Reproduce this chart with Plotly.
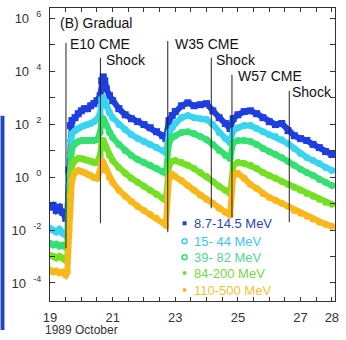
import numpy as np
import plotly.graph_objects as go

# time in days of 1989 October
days = [19.0, 19.1, 19.2, 19.3, 19.4, 19.5, 19.55, 19.6, 19.65, 19.7,
        19.8, 19.9, 20.0, 20.1, 20.2, 20.3, 20.4, 20.5, 20.6, 20.65,
        20.7, 20.75, 20.8, 20.9, 21.0, 21.2, 21.4, 21.6, 21.8, 22.0,
        22.2, 22.4, 22.6, 22.7, 22.8, 22.9, 23.0, 23.2, 23.4, 23.6,
        23.8, 24.0, 24.2, 24.4, 24.6, 24.75, 24.85, 25.0, 25.2, 25.4,
        25.6, 25.8, 26.0, 26.2, 26.4, 26.6, 26.8, 27.0, 27.2, 27.4,
        27.6, 27.8, 28.0]

# log10 of proton intensity
log_8_14 = [-1.14, -1.07, -1.26, -1.14, -1.33, -1.56, -1.44, 0.25, 1.94, 2.13,
            2.24, 2.39, 2.50, 2.58, 2.58, 2.69, 2.77, 2.88, 3.07, 3.63,
            3.78, 3.63, 3.33, 3.07, 2.88, 2.58, 2.35, 2.20, 2.09, 1.98,
            1.86, 1.71, 1.56, 1.45, 2.13, 2.32, 2.47, 2.69, 2.80, 2.69,
            2.73, 2.77, 2.50, 2.24, 2.02, 1.83, 2.20, 2.35, 2.47, 2.50,
            2.39, 2.24, 2.09, 1.98, 2.02, 1.75, 1.56, 1.45, 1.38, 1.23,
            1.11, 0.96, 0.85]
log_15_44 = [-1.93, -2.01, -2.08, -1.97, -2.12, -2.19, -2.08, -0.32, 1.38, 1.64,
             1.75, 1.83, 1.90, 1.94, 1.98, 2.02, 2.09, 2.17, 2.39, 2.95,
             2.99, 2.88, 2.69, 2.43, 2.24, 1.98, 1.79, 1.60, 1.45, 1.34,
             1.23, 1.11, 1.00, 0.92, 1.68, 1.86, 2.02, 2.24, 2.32, 2.24,
             2.20, 2.17, 1.98, 1.68, 1.45, 1.30, 1.75, 1.86, 1.94, 1.94,
             1.83, 1.71, 1.60, 1.53, 1.41, 1.26, 1.08, 0.89, 0.74, 0.62,
             0.51, 0.36, 0.25]
log_39_82 = [-2.50, -2.57, -2.53, -2.61, -2.57, -2.65, -2.57, -0.88, 0.81, 1.08,
             1.26, 1.34, 1.38, 1.38, 1.38, 1.38, 1.38, 1.41, 1.68, 2.20,
             2.20, 2.09, 1.94, 1.68, 1.49, 1.23, 1.00, 0.81, 0.66, 0.55,
             0.44, 0.32, 0.21, 0.14, 1.30, 1.49, 1.56, 1.68, 1.71, 1.64,
             1.53, 1.41, 1.23, 1.00, 0.81, 0.70, 1.30, 1.38, 1.38, 1.34,
             1.23, 1.08, 0.96, 0.85, 0.74, 0.59, 0.44, 0.29, 0.17, 0.06,
             -0.09, -0.20, -0.32]
log_84_200 = [-2.95, -2.99, -3.06, -2.99, -3.06, -3.14, -3.06, -1.44, 0.06, 0.44,
              0.62, 0.70, 0.70, 0.66, 0.62, 0.59, 0.55, 0.55, 0.81, 1.38,
              1.38, 1.23, 1.08, 0.81, 0.62, 0.36, 0.14, -0.05, -0.20, -0.35,
              -0.50, -0.65, -0.80, -0.88, 0.44, 0.59, 0.62, 0.55, 0.44, 0.32,
              0.17, 0.02, -0.17, -0.35, -0.50, -0.62, 0.44, 0.55, 0.51, 0.44,
              0.32, 0.17, 0.06, -0.05, -0.17, -0.28, -0.39, -0.50, -0.62, -0.73,
              -0.84, -0.95, -1.03]
log_110_500 = [-3.51, -3.59, -3.55, -3.62, -3.59, -3.70, -3.59, -2.01, -0.69, -0.13,
               0.17, 0.25, 0.21, 0.17, 0.10, 0.06, -0.02, -0.05, 0.25, 0.62,
               0.55, 0.40, 0.25, -0.02, -0.20, -0.50, -0.73, -0.92, -1.11, -1.26,
               -1.41, -1.56, -1.71, -1.82, -0.02, 0.10, 0.02, -0.13, -0.32, -0.50,
               -0.69, -0.84, -0.99, -1.18, -1.33, -1.44, 0.06, 0.14, -0.05, -0.28,
               -0.43, -0.62, -0.77, -0.88, -0.99, -1.11, -1.26, -1.37, -1.48, -1.59,
               -1.71, -1.78, -1.86]

series_names = ["8.7-14.5 MeV", "15- 44 MeV", "39- 82 MeV", "84-200 MeV", "110-500 MeV"]
series_logs = [log_8_14, log_15_44, log_39_82, log_84_200, log_110_500]
series_colors = ["#1e3ee0", "#38d4f2", "#34e070", "#74e024", "#f8b81c"]
legend_text_colors = ["#2c46b4", "#40c8e8", "#58d494", "#74d844", "#f0c438"]
series_symbols = ["square", "circle", "circle", "circle", "circle"]

# event markers
event_days = [19.51, 20.61, 22.76, 24.15, 24.81, 26.64]
event_labels = ["E10 CME", "Shock", "W35 CME", "Shock", "W57 CME", "Shock"]

x_tick_days = [19, 21, 23, 25, 27, 28]
y_label_powers = [-4, -2, 0, 2, 4, 6]

fig = go.Figure()
for name, lg, col, sym in zip(series_names, series_logs, series_colors, series_symbols):
    fig.add_trace(go.Scatter(
        x=days, y=10 ** np.array(lg), mode="lines+markers", name=name,
        line=dict(color=col, width=6), marker=dict(color=col, size=7, symbol=sym),
        showlegend=False))

# plot-area geometry helpers (paper coords)
L, R, T, B = 50, 338, 7, 301
def px(x):
    return (x - L) / (R - L)
def py(y):
    return (B - y) / (B - T)

shapes = []
line_tops = [42, 57, 40, 57, 74, 90]
line_bottoms = [248, 223, 232, 208, 217, 222]
for d, t, b in zip(event_days, line_tops, line_bottoms):
    shapes.append(dict(type="line", xref="x", yref="paper", x0=d, x1=d,
                       y0=py(b), y1=py(t), line=dict(color="#222", width=1)))

# blue strip at the left edge of the picture
shapes.append(dict(type="rect", xref="paper", yref="paper", x0=px(0), x1=px(4),
                   y0=py(330), y1=py(115), fillcolor="#2048c0", line=dict(width=0)))

annotations = []
font_lbl = dict(family="Arial", size=14, color="#111")
annotations.append(dict(text="(B) Gradual", x=px(58), y=py(22), xref="paper", yref="paper",
                        xanchor="left", yanchor="middle", showarrow=False, font=font_lbl))
label_pos = [(68, 43), (105, 59), (174, 43), (216, 59), (238, 75), (293, 91)]
for lab, (lx, ly) in zip(event_labels, label_pos):
    annotations.append(dict(text=lab, x=px(lx), y=py(ly), xref="paper", yref="paper",
                            xanchor="left", yanchor="middle", showarrow=False, font=font_lbl))

leg_y = [223, 241, 257, 273, 290]
leg_shape = ["rect", "ring", "ring", "dot", "dot"]
for name, col, tcol, ly, st in zip(series_names, series_colors, legend_text_colors, leg_y, leg_shape):
    annotations.append(dict(text=name, x=px(193), y=py(ly), xref="paper", yref="paper",
                            xanchor="left", yanchor="middle", showarrow=False,
                            font=dict(family="Arial", size=13, color=tcol)))
    if st == "rect":
        shapes.append(dict(type="rect", xref="paper", yref="paper", x0=px(184), x1=px(188),
                           y0=py(ly + 2), y1=py(ly - 2), fillcolor=col, line=dict(width=0)))
    elif st == "ring":
        shapes.append(dict(type="circle", xref="paper", yref="paper", x0=px(183.5), x1=px(188.5),
                           y0=py(ly + 2.5), y1=py(ly - 2.5), fillcolor="white",
                           line=dict(color=col, width=1.5)))
    else:
        shapes.append(dict(type="circle", xref="paper", yref="paper", x0=px(184), x1=px(188),
                           y0=py(ly + 2), y1=py(ly - 2), fillcolor=col, line=dict(width=0)))

annotations.append(dict(text="1989 October", x=px(43), y=py(330), xref="paper", yref="paper",
                        xanchor="left", yanchor="middle", showarrow=False,
                        font=dict(family="Arial", size=12, color="#333")))

xt_minor = [19 + 0.5 * i for i in range(19) if (19 + 0.5 * i) not in x_tick_days]
yt = [10.0 ** k for k in y_label_powers]
ytt = [f"10&nbsp;&nbsp;<sup>{k}</sup>" for k in y_label_powers]
yt_minor = [10.0 ** k for k in range(-4, 7) if k not in y_label_powers]

axis_common = dict(showline=True, linecolor="#333", linewidth=1, mirror="ticks",
                   ticks="inside", tickcolor="#333", showgrid=False, zeroline=False)
fig.update_layout(
    width=346, height=340, margin=dict(l=L, r=346 - R, t=T, b=340 - B),
    paper_bgcolor="white", plot_bgcolor="white", showlegend=False,
    xaxis=dict(range=[19, 28.1], tickvals=x_tick_days, ticktext=[str(v) for v in x_tick_days],
               ticklen=4, ticklabelstandoff=4,
               minor=dict(tickvals=xt_minor, ticks="inside", ticklen=4, tickcolor="#333"),
               tickfont=dict(family="Arial", size=13, color="#333"), **axis_common),
    yaxis=dict(type="log", range=[-4.68, 6.38], tickvals=yt, ticktext=ytt, ticklen=5,
               ticklabelstandoff=5,
               minor=dict(tickvals=yt_minor, ticks="inside", ticklen=5, tickcolor="#333"),
               tickfont=dict(family="Arial", size=13, color="#333"), **axis_common),
    shapes=shapes, annotations=annotations,
)
fig.write_html("out.html")
